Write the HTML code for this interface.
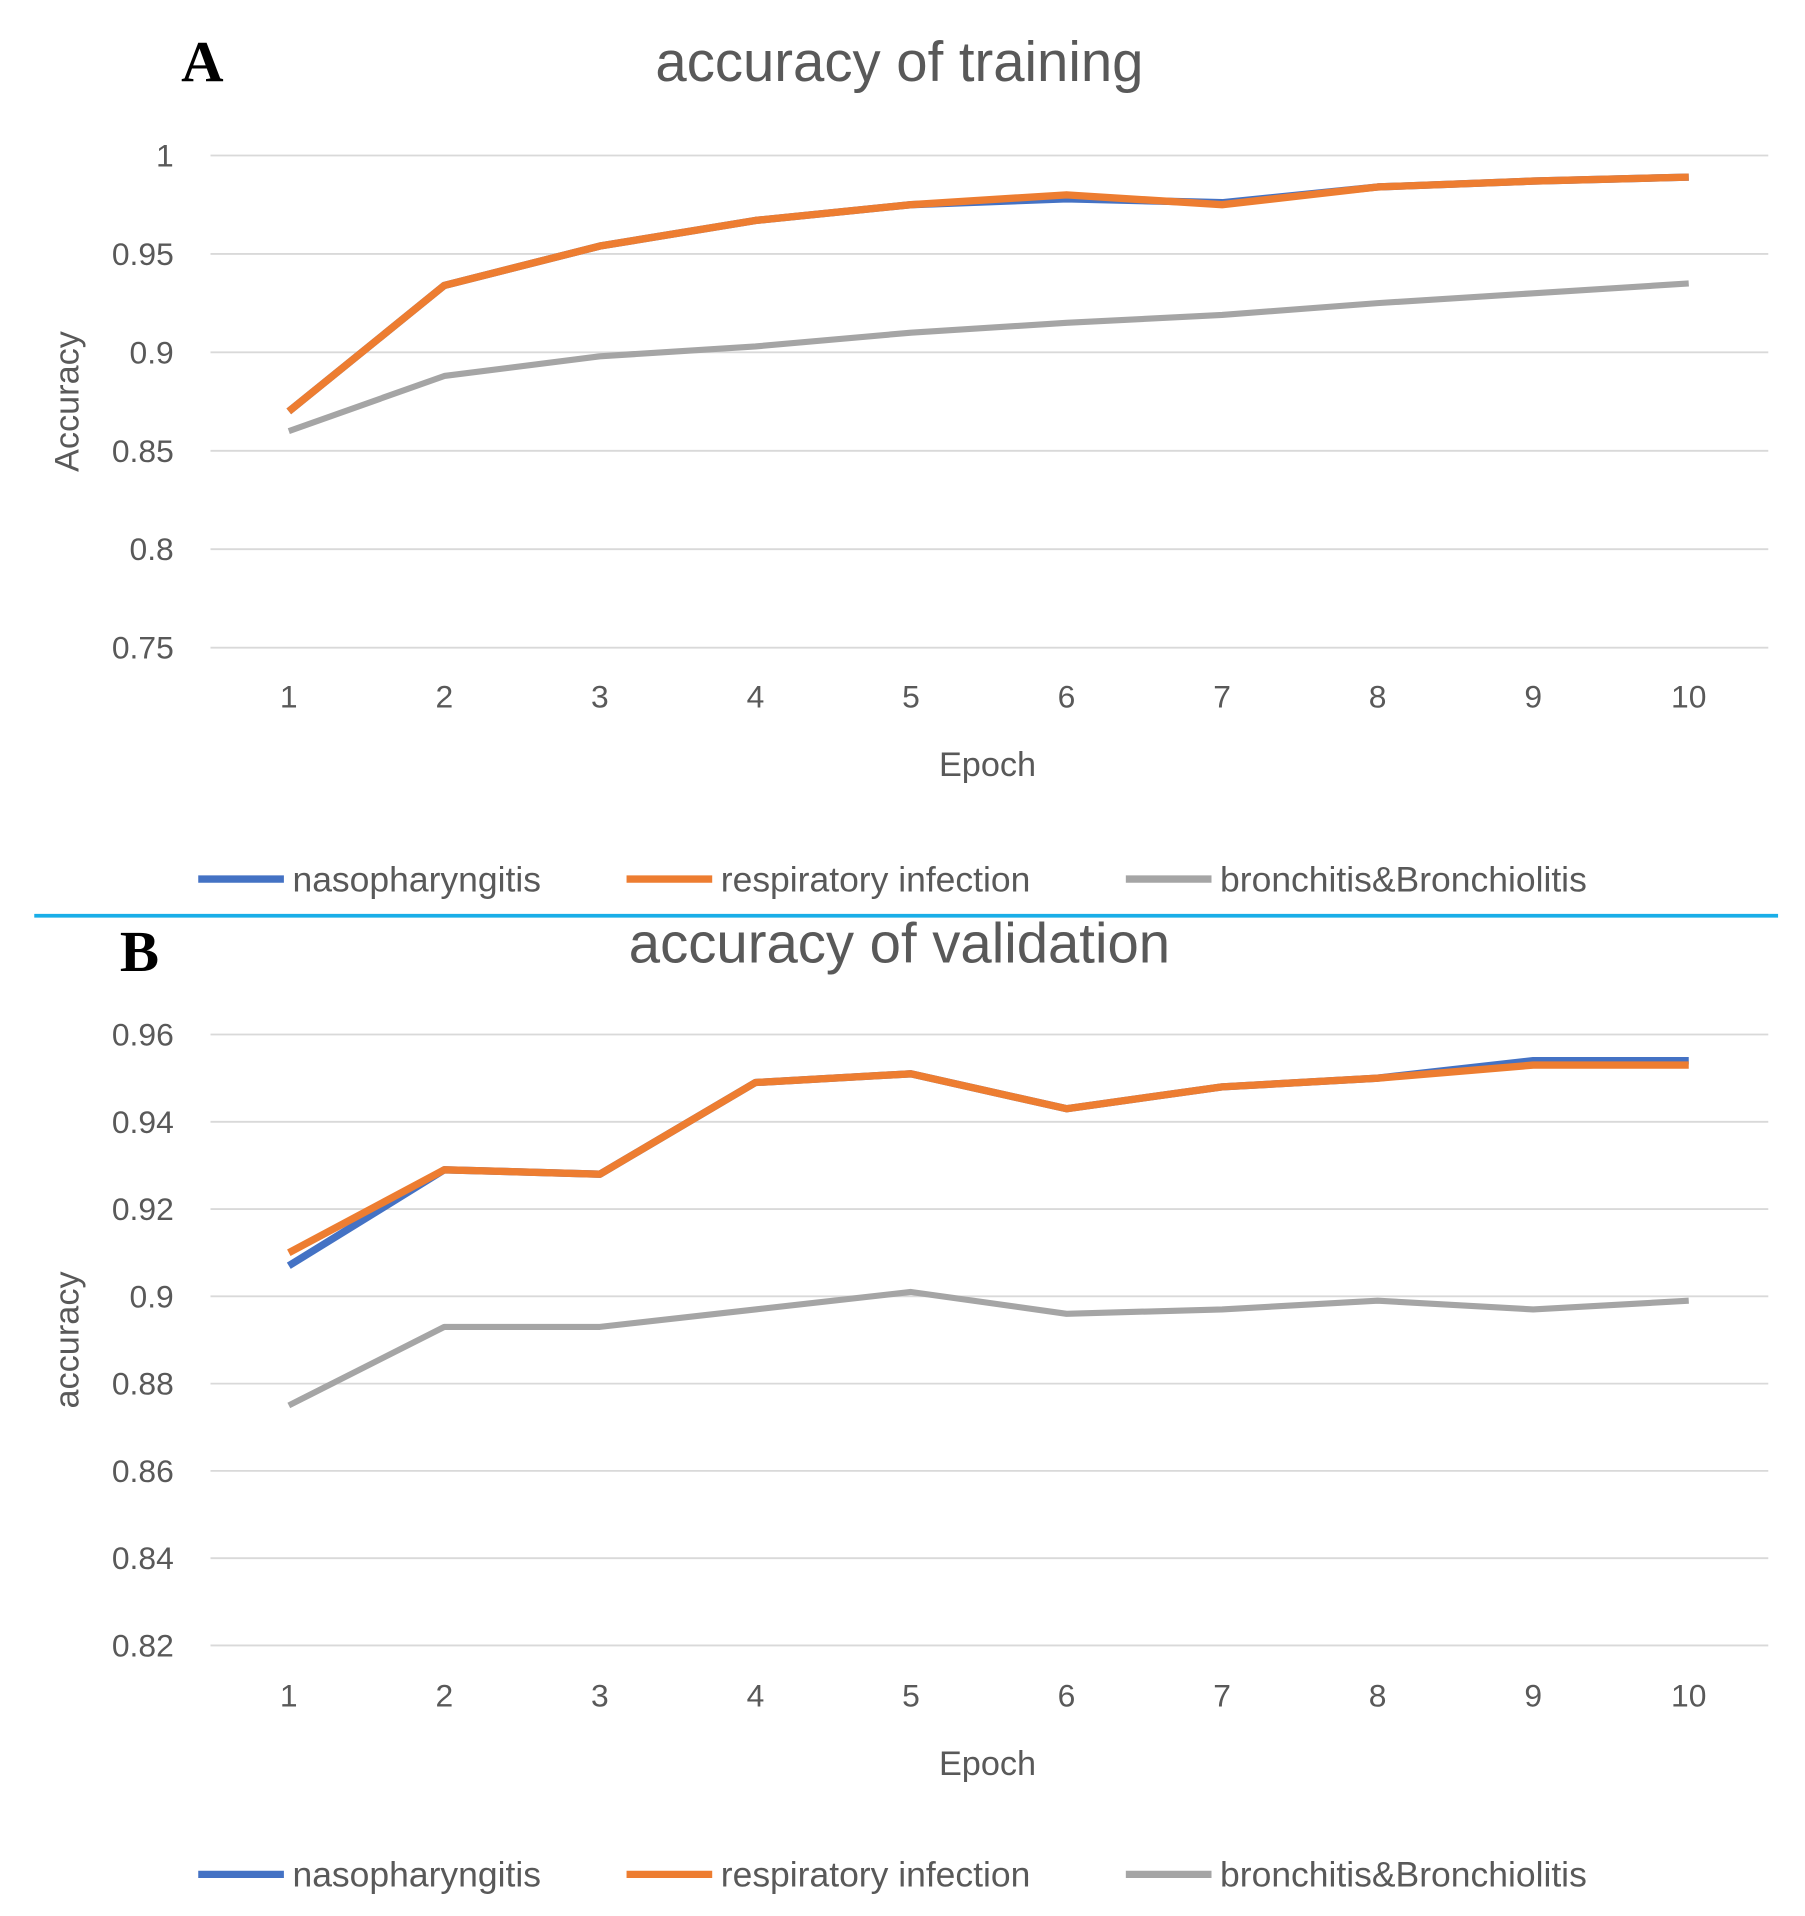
<!DOCTYPE html>
<html><head><meta charset="utf-8"><style>
html,body{margin:0;padding:0;background:#fff}
svg{display:block}
text{font-family:"Liberation Sans",sans-serif;fill:#595959}
</style></head><body>
<svg id="c" width="1805" height="1916" viewBox="0 0 1475 1565" preserveAspectRatio="none">
<line x1="28" y1="748" x2="1453" y2="748" stroke="#19aee8" stroke-width="3"/>
<text x="148" y="66" style="font-family:'Liberation Serif',serif;font-weight:bold;font-size:48px;fill:#000">A</text>
<text x="98" y="793" style="font-family:'Liberation Serif',serif;font-weight:bold;font-size:48px;fill:#000">B</text>
</svg>
<script>
const epochs=[1,2,3,4,5,6,7,8,9,10];
const trainTicks=[0.75,0.8,0.85,0.9,0.95,1];
const trainTickLabels=["0.75","0.8","0.85","0.9","0.95","1"];
const trainNaso=[0.87,0.934,0.954,0.967,0.975,0.978,0.976,0.984,0.987,0.989];
const trainResp=[0.87,0.934,0.954,0.967,0.975,0.980,0.975,0.984,0.987,0.989];
const trainBronch=[0.86,0.888,0.898,0.903,0.91,0.915,0.919,0.925,0.93,0.935];
const valTicks=[0.82,0.84,0.86,0.88,0.9,0.92,0.94,0.96];
const valTickLabels=["0.82","0.84","0.86","0.88","0.9","0.92","0.94","0.96"];
const valNaso=[0.907,0.929,0.928,0.949,0.951,0.943,0.948,0.950,0.954,0.954];
const valResp=[0.910,0.929,0.928,0.949,0.951,0.943,0.948,0.950,0.953,0.953];
const valBronch=[0.875,0.893,0.893,0.897,0.901,0.896,0.897,0.899,0.897,0.899];
const seriesNames=["nasopharyngitis","respiratory infection","bronchitis&Bronchiolitis"];
const colors=["#4472c4","#ed7d31","#a5a5a5"];
const svg=document.getElementById('c');
const NS='http://www.w3.org/2000/svg';
function mk(tag,attrs,parent){const e=document.createElementNS(NS,tag);for(const k in attrs)e.setAttribute(k,attrs[k]);(parent||svg).appendChild(e);return e;}
function panel(p){
  const g=mk('g',{});
  
  
  const ymin=p.ticks[0],ymax=p.ticks[p.ticks.length-1];
  const y=v=>p.yBot+(v-ymin)/(ymax-ymin)*(p.yTop-p.yBot);
  const x=e=>236+(e-1)/(epochs.length-1)*(1380-236);
  p.ticks.forEach((t,i)=>{
    const l=mk('line',{x1:172,x2:1445,y1:y(t),y2:y(t),stroke:'#d9d9d9','stroke-width':1.5},g);
    
    
    const tx=mk('text',{x:142,y:y(t)+9,'text-anchor':'end','font-size':26},g);
    tx.textContent=p.tickLabels[i];
    
    
  });
  epochs.forEach(e=>{
    const tx=mk('text',{x:x(e),y:p.xLab,'text-anchor':'middle','font-size':26},g);
    tx.textContent=e;
    
    
  });
  const et=mk('text',{x:807,y:p.xLab+56,'text-anchor':'middle','font-size':28},g);
  et.textContent='Epoch';
  
  
  const yc=(p.yTop+p.yBot)/2;
  const yt=mk('text',{x:0,y:0,'text-anchor':'middle','font-size':28,transform:`translate(64,${yc}) rotate(-90)`},g);
  yt.textContent=p.yTitle;
  
  
  const tt=mk('text',{x:735,y:p.titleY,'text-anchor':'middle','font-size':46},g);
  tt.textContent=p.title;
  
  
  [2,0,1].forEach(si=>{
    const d=p.series[si].map((v,i)=>(i?'L':'M')+x(epochs[i])+','+y(v)).join(' ');
    const path=mk('path',{d:d,fill:'none',stroke:colors[si],'stroke-width':si==2?5:6,'stroke-linejoin':'round'},g);
    
    
  });
  const lx=[162,512,920];
  seriesNames.forEach((n,i)=>{
    const lg=mk('g',{},g);
    
    
    mk('line',{x1:lx[i],x2:lx[i]+70,y1:p.legY,y2:p.legY,stroke:colors[i],'stroke-width':6},lg);
    const t=mk('text',{x:lx[i]+77,y:p.legY+10,'font-size':29},lg);
    t.textContent=n;
  });
}
panel({id:'training',title:'accuracy of training',titleY:66,yTitle:'Accuracy',ticks:trainTicks,tickLabels:trainTickLabels,yTop:127,yBot:529,xLab:578,legY:718,series:[trainNaso,trainResp,trainBronch]});
panel({id:'validation',title:'accuracy of validation',titleY:786,yTitle:'accuracy',ticks:valTicks,tickLabels:valTickLabels,yTop:845,yBot:1344,xLab:1394,legY:1531,series:[valNaso,valResp,valBronch]});
</script>
</body></html>
